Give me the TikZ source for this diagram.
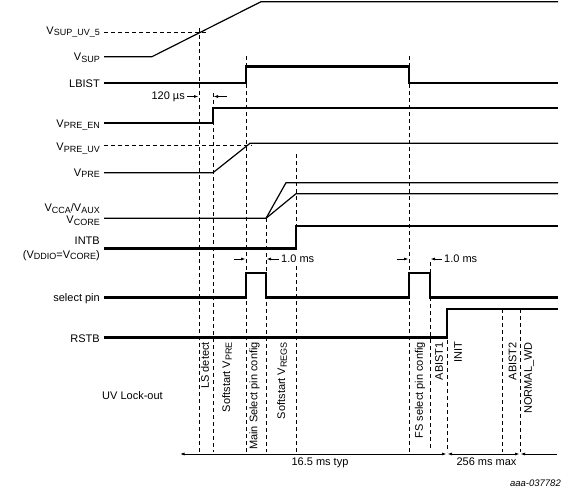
\documentclass[tikz,border=0pt]{standalone}
\usepackage{fontspec}
\setmainfont{Liberation Sans}
\usepackage{tikz}
\usetikzlibrary{arrows.meta}

\newcommand{\sg}[2]{#1\raisebox{-1.8pt}{\fontsize{9}{10}\selectfont #2}}

\tikzset{
  sig/.style={line width=1.2pt},
  bus/.style={line width=2.5pt},
  guide/.style={line width=0.9pt, dash pattern=on 4pt off 3pt},
  lbl/.style={anchor=base east, inner sep=0pt},
  vlbl/.style={rotate=90, anchor=east, inner sep=0pt},
  ptr/.style={line width=0.8pt, <-},
  dim/.style={line width=0.8pt}
}

\begin{document}
\begin{tikzpicture}[x=1pt, y=-1pt, >={Latex[length=4.5pt,width=3pt]},
  every node/.style={font=\fontsize{11}{13}\selectfont}]
  \useasboundingbox (0,0) rectangle (586,490);

  % signal names
  \node[lbl] (vsupuv) at (100,34) {\sg{V}{SUP\_UV\_5}};
  \node[lbl] (vsup) at (100,60.5) {\sg{V}{SUP}};
  \node[lbl] (lbist) at (100,87.5) {LBIST};
  \node[lbl] (vpreen) at (100,127) {\sg{V}{PRE\_EN}};
  \node[lbl] (vpreuv) at (100,150.5) {\sg{V}{PRE\_UV}};
  \node[lbl] (vpre) at (100,176) {\sg{V}{PRE}};
  \node[lbl] (vcca) at (100,211.5) {\sg{V}{CCA}/\sg{V}{AUX}};
  \node[lbl] (vcore) at (100,223.5) {\sg{V}{CORE}};
  \node[lbl] (intb) at (100,244) {INTB};
  \node[lbl] (vddio) at (100,258) {(\sg{V}{DDIO}=\sg{V}{CORE})};
  \node[lbl] (selpin) at (100,301) {select pin};
  \node[lbl] (rstb) at (100,342) {RSTB};
  \node[anchor=base west, inner sep=0pt] (uvlock) at (102,399) {UV Lock-out};

  % waveforms
  \draw[guide] (104,32.3) -- (207,32.3);
  \draw[sig] (104,56.7) -- (152,56.7) -- (261,1.7) -- (558,1.7);
  \draw[bus] (104,83) -- (246,83) -- (246,66.7) -- (409,66.7) -- (409,83) -- (558,83);
  \draw[bus] (104,123) -- (213,123) -- (213,108) -- (558,108);
  \draw[guide] (104,145.7) -- (252,145.7);
  \draw[sig] (104,172.7) -- (213,172.7) -- (250,143.3) -- (558,143.3);
  \draw[sig] (104,218.3) -- (266,218.3) -- (286,182.7) -- (558,182.7);
  \draw[sig] (266,218.3) -- (296,193.7) -- (558,193.7);
  \draw[bus] (104,248.3) -- (296,248.3) -- (296,226) -- (558,226);
  \draw[bus] (104,297.7) -- (246,297.7) -- (246,273) -- (266,273) -- (266,297.7)
    -- (409,297.7) -- (409,273) -- (430,273) -- (430,297.7) -- (558,297.7);
  \draw[bus] (104,337.7) -- (447,337.7) -- (447,309) -- (558,309);

  % time marks
  \foreach \x/\top/\bot in {199/28/452, 213/93/452, 246/56/452, 266/218/452,
      296/154/226, 296/266/452, 409/56/452, 430/262/448, 447/340/452,
      502/309/452, 520/309/452}
    \draw[guide] (\x,\top) -- (\x,\bot);

  \node[vlbl] (lsdet) at (205,342) {LS detect};
  \node[vlbl] (sspre) at (227,342) {Softstart \sg{V}{PRE}};
  \node[vlbl] (mainsel) at (254.5,342) {Main Select pin config};
  \node[vlbl] (ssregs) at (282,342) {Softstart \sg{V}{REGS}};
  \node[vlbl] (fssel) at (420,342) {FS select pin config};
  \node[vlbl] (abist1) at (439,342) {ABIST1};
  \node[vlbl] (init) at (458,342) {INIT};
  \node[vlbl] (abist2) at (512.5,342) {ABIST2};
  \node[vlbl] (normwd) at (529,342) {NORMAL\_WD};

  % delays
  \node[anchor=east, inner sep=0pt] (t120) at (185,96.5) {120 µs};
  \coordinate (lsmark) at (198.5,96.5);
  \coordinate (enmark) at (213.5,96.5);
  \draw[ptr] (lsmark) -- ([xshift=2pt]t120.east);
  \draw[ptr] (enmark) -- ++(13.5,0);

  \node[anchor=west, inner sep=0pt] (ms1) at (281,259) {1.0 ms};
  \coordinate (selon) at (245.5,259);
  \coordinate (seloff) at (266.5,259);
  \draw[ptr] (selon) -- ++(-12,0);
  \draw[ptr] (seloff) -- ([xshift=-2pt]ms1.west);

  \node[anchor=west, inner sep=0pt] (ms2) at (444,259) {1.0 ms};
  \coordinate (fson) at (408.5,259);
  \coordinate (fsoff) at (430.5,259);
  \draw[ptr] (fson) -- ++(-12,0);
  \draw[ptr] (fsoff) -- ([xshift=-2pt]ms2.west);

  % durations
  \coordinate (d0) at (180,454);
  \coordinate (d1) at (446.5,454);
  \coordinate (d2) at (447.5,454);
  \coordinate (d3) at (519.5,454);
  \coordinate (d4) at (520.5,454);
  \coordinate (d5) at (557,454);
  \draw[dim, <->] (d0) -- (d1);
  \draw[dim, <->] (d2) -- (d3);
  \draw[dim, <-] (d4) -- (d5);
  \node[anchor=base, inner sep=0pt] (typ) at (320,465.5) {16.5 ms typ};
  \node[anchor=base, inner sep=0pt] (max) at (486.5,465.5) {256 ms max};

  \node[anchor=base east, inner sep=0pt, font=\fontsize{9.5}{11}\selectfont\itshape] (ref) at (561,486) {aaa-037782};
\end{tikzpicture}
\end{document}
